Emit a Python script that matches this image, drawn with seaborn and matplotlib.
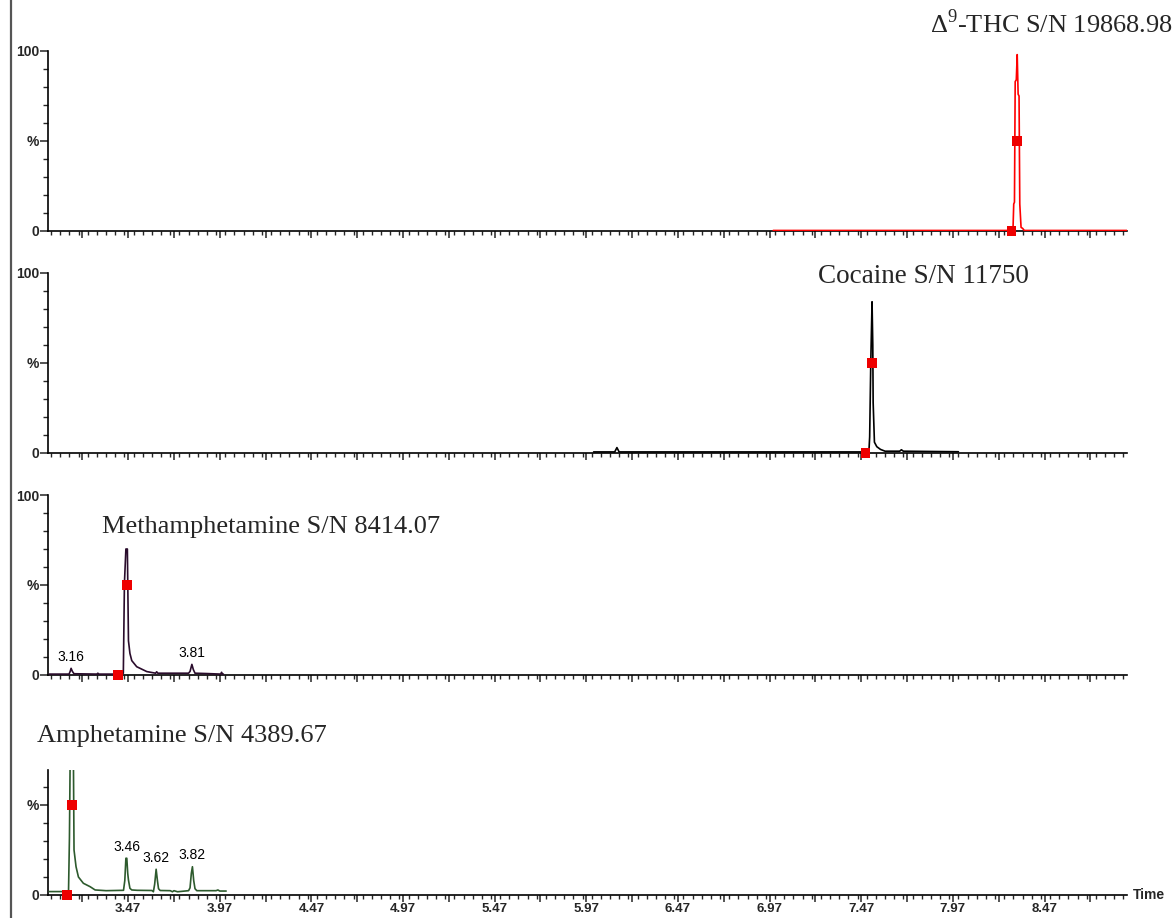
import numpy as np
import pandas as pd
import matplotlib
matplotlib.use("Agg")
import matplotlib.pyplot as plt
import seaborn as sns
from matplotlib.lines import Line2D
from matplotlib.ticker import MultipleLocator, FixedLocator, FuncFormatter

# --- data (time in min, intensity in %) ---
thc_t = [6.99, 8.29, 8.298, 8.302, 8.306, 8.310, 8.316, 8.321, 8.326, 8.331, 8.335, 8.342, 8.350, 8.360, 8.92]
thc_y = [0.3, 0.3, 1, 15, 16, 83, 84, 98, 76, 75, 15, 2, 1.5, 0.3, 0.3]

coc_t = [6.01, 6.125, 6.137, 6.149, 7.50, 7.512, 7.516, 7.522, 7.529, 7.533, 7.535, 7.542, 7.555, 7.575, 7.60,
         7.68, 7.689, 7.70, 8.00]
coc_y = [0.6, 0.6, 3, 0.6, 0.6, 1, 9, 50, 84, 60, 28, 6, 3.5, 2, 1, 1, 1.8, 1, 0.7]

meth_t = [3.04, 3.148, 3.154, 3.159, 3.166, 3.175, 3.30, 3.305, 3.31, 3.435, 3.444, 3.450, 3.458, 3.466,
          3.472, 3.480, 3.490, 3.517, 3.572, 3.62, 3.626, 3.632, 3.80, 3.808, 3.818, 3.826, 3.835, 3.90,
          3.975, 3.98, 3.985, 3.99]
meth_y = [0.5, 0.5, 2, 3.7, 2, 0.7, 0.5, 1, 0.5, 0.5, 1, 51, 70, 70, 19, 12, 8, 4.6, 1.9, 1, 1.8, 1, 1, 2,
          5.9, 3, 1, 0.8, 0.5, 1.5, 0.5, 0.5]

amph_t = [3.04, 3.135, 3.145, 3.150, 3.156, 3.163, 3.170, 3.175, 3.186, 3.199, 3.226, 3.263, 3.290, 3.35,
          3.445, 3.452, 3.458, 3.463, 3.468, 3.472, 3.480, 3.490, 3.52, 3.60, 3.608, 3.615, 3.623, 3.630,
          3.636, 3.645, 3.70, 3.712, 3.72, 3.74, 3.80, 3.808, 3.815, 3.821, 3.828, 3.835, 3.845, 3.95, 3.96,
          3.97, 4.005]
amph_y = [1.9, 1.9, 2, 31.7, 100, 100, 100, 25, 15.7, 10, 6.5, 4.6, 2.8, 2.4, 2.6, 8, 20.4, 20.4, 12, 8.3,
          3.7, 2.8, 2.6, 2.5, 1.8, 6, 14.3, 8, 3.5, 2.5, 2.4, 1.8, 2.4, 1.8, 2.4, 4, 12, 15.7, 8, 3.5, 2.4,
          2.4, 2.8, 2.2, 2.2]

# integration markers (peak apex at 50 %, start at baseline)
thc_mark = ([8.321, 8.29], [50, 0])
coc_mark = ([7.529, 7.493], [50, 0])
meth_mark = ([3.463, 3.417], [50, 0])
amph_mark = ([3.163, 3.135], [50, 0])

titles = ["Δ$^{\\mathrm{9}}$-THC S/N 19868.98", "Cocaine S/N 11750",
          "Methamphetamine S/N 8414.07", "Amphetamine S/N 4389.67"]
peak_labels = {2: [("3.16", 3.159, 3.7), ("3.81", 3.818, 5.9)],
               3: [("3.46", 3.463, 20.4), ("3.62", 3.623, 14.3), ("3.82", 3.821, 15.7)]}

sns.set_style("ticks")
plt.rcParams['font.family'] = ['Liberation Sans', 'DejaVu Sans']
plt.rcParams['mathtext.fontset'] = 'custom'
plt.rcParams['mathtext.rm'] = 'Liberation Serif'

W, H = 1175, 918
fig = plt.figure(figsize=(W / 100, H / 100), dpi=100)


def px_axes(x0, x1, y_top, y_bot):
    return fig.add_axes([x0 / W, 1 - y_bot / H, (x1 - x0) / W, (y_bot - y_top) / H])


panels = [
    (thc_t, thc_y, thc_mark, "#ff0000", 51, 231, 100),
    (coc_t, coc_y, coc_mark, "#000000", 273, 453, 100),
    (meth_t, meth_y, meth_mark, "#2a0c2c", 495, 675, 100),
    (amph_t, amph_y, amph_mark, "#2d5a2d", 770, 895, 69.4),
]

xmin, xmax = 3.033, 8.92
major = np.round(np.arange(3.22, 8.80, 0.25), 2)

for i, (t, y, mark, col, ytop, ybot, ymax) in enumerate(panels):
    ax = px_axes(48, 1127, ytop, ybot)
    df = pd.DataFrame({"time": t, "pct": y})
    sns.lineplot(data=df, x="time", y="pct", ax=ax, color=col, linewidth=1.2,
                 estimator=None, sort=False, zorder=3)
    sns.scatterplot(x=mark[0], y=mark[1], ax=ax, color="#ee0000", marker="s", s=50,
                    edgecolor="none", zorder=5, clip_on=False)
    ax.set_xlim(xmin, xmax)
    ax.set_ylim(0, ymax)
    ax.set_xlabel("")
    ax.set_ylabel("")
    for s in ["top", "right"]:
        ax.spines[s].set_visible(False)
    for s in ["left", "bottom"]:
        ax.spines[s].set_linewidth(1.2)
        ax.spines[s].set_color("black")

    ax.xaxis.set_major_locator(FixedLocator(major))
    ax.xaxis.set_minor_locator(MultipleLocator(0.05))
    if i == 3:
        ax.xaxis.set_major_formatter(FuncFormatter(
            lambda v, p: f"{v:.2f}" if abs(((v - 3.47) / 0.5) - round((v - 3.47) / 0.5)) < 1e-3 else ""))
    else:
        ax.set_xticklabels([])
    ax.tick_params(axis="x", which="major", length=5.0, width=1.1, labelsize=9.5, pad=0.5)
    ax.tick_params(axis="x", which="minor", length=2.8, width=1.0)

    if ymax >= 100:
        ax.set_yticks([0, 50, 100])
        ax.set_yticklabels(["0", "%", "100"])
    else:
        ax.set_yticks([0, 50])
        ax.set_yticklabels(["0", "%"])
    ax.yaxis.set_minor_locator(MultipleLocator(10))
    ax.tick_params(axis="y", which="major", length=5.5, width=1.1, labelsize=10, pad=1)
    ax.tick_params(axis="y", which="minor", length=3.5, width=1.0)
    for lab in ax.get_xticklabels() + ax.get_yticklabels():
        lab.set_fontweight("bold")

    for txt, px, py in peak_labels.get(i, []):
        ax.text(px, py + 2.5, txt, ha="center", va="bottom", fontsize=10, color="black")

    if i == 3:
        ax.text(1.005, 0.0, "Time", transform=ax.transAxes, ha="left", va="center",
                fontsize=10, fontweight="bold")

serif = ['Liberation Serif', 'DejaVu Serif']
fig.text(1173 / W, 1 - 33.3 / H, titles[0], ha="right", va="baseline", fontsize=19, family=serif)
fig.text(818 / W, 1 - 283 / H, titles[1], ha="left", va="baseline", fontsize=19.5, family=serif)
fig.text(101.7 / W, 1 - 533.3 / H, titles[2], ha="left", va="baseline", fontsize=19, family=serif)
fig.text(36.7 / W, 1 - 741.7 / H, titles[3], ha="left", va="baseline", fontsize=19, family=serif)

# left border line of the original figure
fig.add_artist(Line2D([11 / W, 11 / W], [0, 1], color="#555555", linewidth=1.6))

fig.savefig("out.png", dpi=100)
